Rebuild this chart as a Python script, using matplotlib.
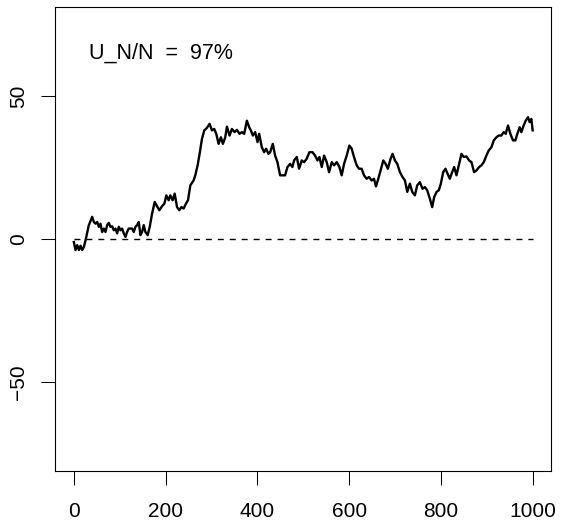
import matplotlib
matplotlib.use("Agg")
import matplotlib.pyplot as plt

plt.rcParams['font.family'] = ['Liberation Sans', 'DejaVu Sans']

# path (step index, value)
steps = [0, 3.7, 7.4, 11, 14.6, 18.2, 21.9, 25.5, 32.7, 40, 43.6, 47.2, 50.9, 54.5, 58.1,
         61.7, 65.4, 69, 72.6, 76.2, 79.9, 83.5, 87.1, 90.7, 94.4, 98, 101.6, 105.2, 108.9,
         112.5, 116.1, 119.7, 127, 130.6, 134.2, 137.9, 141.5, 145.1, 148.7, 152.4, 156,
         161, 165.4, 170.5, 176.3, 181.3, 186.4, 192.2, 197.3, 201.6, 206.7, 210.3, 215.4,
         219.8, 224.9, 229.9, 234.3, 239.3, 244.4, 248.8, 253.9,
         261, 264.7, 269.8, 274.1, 279.2, 284.3, 290.1, 295.9, 301, 306, 310.4, 315.5,
         320.5, 324.9, 330, 333.6, 339.4, 344.5, 350.3, 355.4, 361.2, 366.2, 371.3, 377.1,
         382.2, 385.8, 390.2, 395.2, 400.3, 403.9, 409.7, 414.8, 419.1, 424.2, 427.9, 433.6,
         438.7, 443.8, 449.6, 455.4, 460.5, 465.5, 471.4, 476.4, 480, 485.9, 490.9, 496.7,
         501.8, 507.6, 513.4,
         520, 525.8, 530.9, 535.2, 540.3, 545.4, 551.2, 556.3, 562.1, 567.2, 573, 578.8,
         583.8, 588.9, 594.7, 600.5, 605.6, 610.6, 616.5, 621.5, 627.3, 632.4, 638.2, 643.3,
         649.1, 654.2, 658.5, 663.6, 668.6, 674.5, 679.5, 684.3, 690.4, 694.7, 699.8, 704.9,
         710.7, 716.5, 721.6, 726.7, 732.4, 737.5, 743.3, 748.4, 754.2, 760, 765.1, 770.1,
         776, 781, 785.4, 790.5, 795.5, 799.9, 805, 810, 814.4, 819.5, 824.5, 828.9, 834,
         839, 844.8, 849.9, 855.7, 861.5, 866.6, 872.4, 877.5, 883.3, 888.3, 893.4, 899.2,
         904.3, 910.1, 915.2, 921, 926, 931.8, 936.9, 941.3, 946.3, 951.4, 957.2, 962.3,
         966.6, 971.7, 975.3, 980.4, 984.8, 989.8, 993.4, 997.1, 1000]
values = [-1.0, -3.8, -2.1, -3.8, -2.3, -3.8, -2.7, -0.4, 4.9, 7.8, 6.0, 5.4, 6.0, 4.3, 5.4,
          2.5, 3.7, 2.5, 4.9, 5.7, 4.3, 4.5, 3.1, 3.7, 2.0, 4.3, 3.1, 3.7, 2.0,
          0.8, 2.5, 3.7, 3.7, 2.5, 4.3, 4.9, 6.0, 1.4, 2.5, 4.9, 2.5,
          1.4, 4.3, 8.9, 13.0, 11.5, 10.1, 11.5, 12.4, 15.3, 13.6, 15.3, 13.6,
          15.9, 11.2, 10.1, 11.2, 10.7, 12.4, 13.6, 18.8,
          20.5, 22.3, 25.8, 29.8, 35.0, 38.0, 38.9, 40.3, 38.0, 38.5, 36.8, 33.3,
          35.6, 33.3, 35.6, 39.3, 36.2, 38.5, 37.4, 38.2, 36.8, 37.4, 36.8, 41.4,
          39.1, 38.0, 36.2, 37.4, 33.9, 36.8, 32.1, 30.4, 31.6, 29.8, 30.4, 33.3,
          29.2, 26.9, 22.3, 22.3, 22.3, 25.2, 26.3, 25.2, 27.5, 28.7, 24.6, 27.5,
          26.9, 28.1, 30.4,
          30.4, 29.2, 27.5, 28.7, 25.2, 29.2, 26.9, 23.4, 26.9, 25.8, 26.9, 25.2,
          22.3, 26.3, 29.2, 32.7, 31.6, 28.7, 25.8, 24.6, 24.6, 22.3, 21.1, 21.7,
          20.5, 21.1, 18.4, 21.1, 24.0, 27.5, 26.3, 24.6, 28.1, 29.8, 27.5, 26.3,
          23.4, 21.7, 20.5, 16.5, 19.4, 16.5, 15.3, 18.8, 19.9, 17.6, 18.2, 17.1,
          14.1, 11.2, 14.7, 16.5, 17.1, 19.4, 23.4, 24.6, 22.9, 21.1, 23.4, 25.2, 22.3,
          25.8, 29.8, 28.7, 28.9, 27.5, 26.9, 23.4, 24.0, 25.2, 25.8, 26.9, 29.2,
          31.0, 32.1, 34.5, 35.6, 36.2, 36.2, 37.4, 36.8, 39.7, 36.8, 34.5, 34.5,
          36.8, 39.1, 37.4, 39.7, 41.4, 42.6, 40.9, 42.0, 38.0]

x_ticks = [0, 200, 400, 600, 800, 1000]
y_ticks = [-50, 0, 50]
label_text = "U_N/N  =  97%"

fig = plt.figure(figsize=(5.61, 5.22), dpi=100)
ax = fig.add_axes([0.0989, 0.0977, 0.8833, 0.8883])

ax.plot(steps, values, color='black', lw=1.7, solid_joinstyle='round')
ax.plot([0, 1000], [0, 0], color='black', lw=1.0, linestyle=(0, (4.3, 4.3)))

ax.text(190, 65, label_text, ha='center', va='center', fontsize=15.5)

ax.set_xlim(-40, 1040)
ax.set_ylim(-81, 81)
ax.set_xticks(x_ticks)
ax.set_xticklabels([str(t) for t in x_ticks])
ax.set_yticks(y_ticks)
ax.set_yticklabels([str(t).replace('-', '\u2212') for t in y_ticks],
                   rotation=90, va='center')

ax.tick_params(axis='both', length=10, width=0.75, labelsize=15, direction='out')
ax.tick_params(axis='x', pad=12)
ax.tick_params(axis='y', pad=10)
for s in ax.spines.values():
    s.set_linewidth(0.8)

fig.savefig("out.png", dpi=100)
